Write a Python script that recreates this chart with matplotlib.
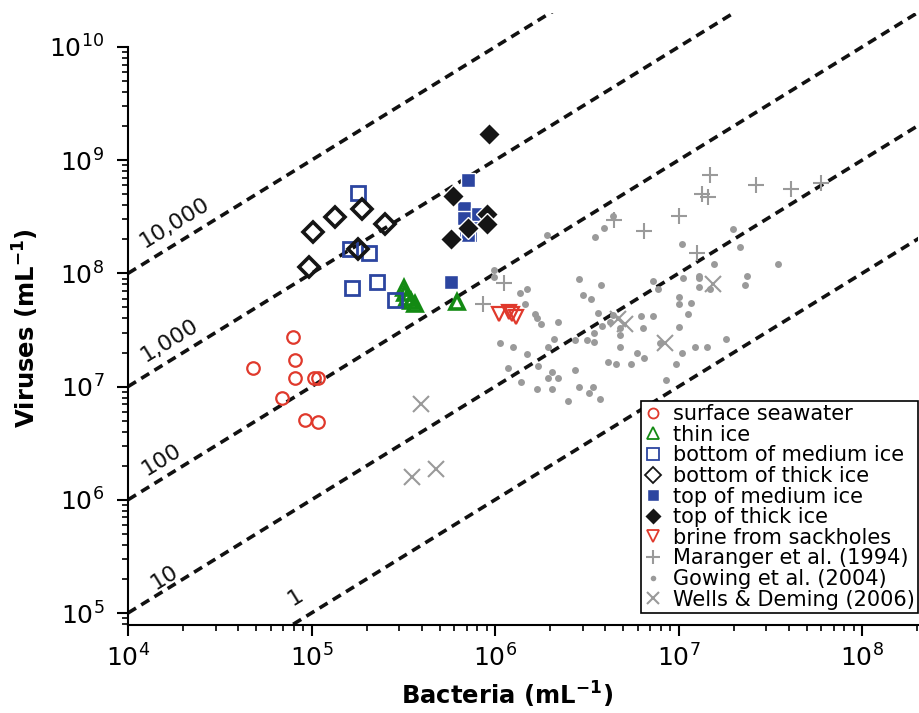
import numpy as np
import matplotlib
matplotlib.use("Agg")
import matplotlib.pyplot as plt

# ---- data (bacteria, viruses per mL)
surface_b = [7.9e4, 8.1e4, 4.8e4, 8.1e4, 1.03e5, 1.08e5, 6.9e4, 9.2e4, 1.08e5]
surface_v = [2.74e7, 1.72e7, 1.46e7, 1.19e7, 1.19e7, 1.19e7, 7.9e6, 5.07e6, 4.87e6]

thin_b = [3.19e5, 3.24e5, 3.31e5, 3.48e5, 3.66e5, 6.2e5]
thin_v = [7.43e7, 6.7e7, 6.07e7, 5.7e7, 5.37e7, 5.58e7]

botmed_b = [1.79e5, 1.62e5, 2.06e5, 1.66e5, 2.28e5, 2.85e5, 7.98e5, 7.13e5]
botmed_v = [5.13e8, 1.64e8, 1.51e8, 7.43e7, 8.4e7, 5.82e7, 3.28e8, 2.28e8]

botthick_b = [1.02e5, 1.34e5, 1.88e5, 2.52e5, 1.79e5, 9.7e4]
botthick_v = [2.32e8, 3.15e8, 3.71e8, 2.73e8, 1.64e8, 1.14e8]

topmed_b = [7.13e5, 6.78e5, 6.78e5, 8.07e5, 7.13e5, 5.75e5]
topmed_v = [6.68e8, 3.79e8, 3.08e8, 3.35e8, 2.18e8, 8.4e7]

topthick_b = [9.27e5, 5.9e5, 5.75e5, 9.04e5, 9.04e5, 7.13e5]
topthick_v = [1.70e9, 4.83e8, 2.01e8, 3.35e8, 2.73e8, 2.52e8]

brine_b = [1.05e6, 1.19e6, 1.24e6, 1.30e6]
brine_v = [4.38e7, 4.56e7, 4.38e7, 4.12e7]

maranger_b = [1.49e7, 1.34e7, 1.45e7, 2.64e7, 4.08e7, 5.96e7, 4.47e6, 1.01e7,
              6.52e6, 1.26e7, 1.12e6, 8.63e5]
maranger_v = [7.4e8, 5.0e8, 4.77e8, 6.04e8, 5.53e8, 6.25e8, 2.96e8, 3.21e8,
              2.37e8, 1.52e8, 8.19e7, 5.33e7]

gowing_b = [1.91e6, 3.51e6, 3.94e6, 4.41e6, 9.9e5, 9.9e5, 2.87e6, 3.77e6, 1.50e6, 1.36e6,
            3.02e6, 3.32e6, 1.46e6, 1.65e6, 1.69e6, 1.78e6, 2.20e6, 1.07e6, 1.26e6, 1.49e6,
            1.18e6, 1.39e6, 1.69e6, 1.72e6, 1.95e6, 2.05e6, 1.95e6, 2.20e6, 2.04e6, 2.10e6,
            2.49e6, 2.74e6, 2.87e6, 2.73e6, 3.16e6, 3.48e6, 3.48e6, 3.25e6, 3.41e6, 3.75e6,
            3.66e6, 3.85e6, 4.23e6, 7.22e6, 7.76e6, 1.06e7, 1.29e7, 1.29e7, 1.57e7, 1.29e7,
            1.49e7, 1.01e7, 1.17e7, 1.01e7, 1.04e7, 1.99e7, 2.15e7, 3.47e7, 2.35e7, 2.30e7,
            6.25e6, 7.22e6, 6.38e6, 4.80e6, 4.80e6, 4.38e6, 4.80e6, 4.11e6, 4.57e6, 5.51e6,
            5.92e6, 6.49e6, 7.93e6, 1.01e7, 1.12e7, 1.04e7, 9.69e6, 8.55e6, 1.23e7, 1.43e7,
            1.81e7]
gowing_v = [2.18e8, 2.10e8, 2.54e8, 3.21e8, 1.07e8, 9.2e7, 8.87e7, 7.82e7, 7.28e7, 6.71e7,
            6.45e7, 5.98e7, 5.35e7, 4.36e7, 4.04e7, 3.57e7, 3.72e7, 2.43e7, 2.24e7, 1.93e7,
            1.45e7, 1.105e7, 9.46e6, 1.52e7, 2.24e7, 1.35e7, 1.18e7, 1.18e7, 9.46e6, 2.62e7,
            7.51e6, 1.40e7, 9.86e6, 2.60e7, 2.60e7, 2.96e7, 2.49e7, 8.73e6, 9.82e6, 7.77e6,
            4.51e7, 3.43e7, 3.72e7, 8.51e7, 7.25e7, 9.16e7, 9.54e7, 9.11e7, 1.21e8, 7.54e7,
            7.23e7, 6.23e7, 5.51e7, 5.37e7, 1.81e8, 2.45e8, 1.72e8, 1.21e8, 9.54e7, 7.82e7,
            4.22e7, 4.21e7, 3.31e7, 3.31e7, 2.86e7, 4.25e7, 2.25e7, 1.64e7, 1.58e7, 1.58e7,
            1.99e7, 1.78e7, 2.45e7, 3.33e7, 4.35e7, 1.99e7, 1.58e7, 1.14e7, 2.25e7, 2.25e7,
            2.62e7]

wells_b = [3.95e5, 4.77e5, 3.53e5, 4.68e6, 5.1e6, 8.44e6, 1.54e7]
wells_v = [7.0e6, 1.87e6, 1.59e6, 3.96e7, 3.57e7, 2.43e7, 8.05e7]

ratios = [1, 10, 100, 1000, 10000]
ratio_labels = ["1", "10", "100", "1,000", "10,000"]
label_b = [8.2e4, 1.59e4, 1.53e4, 1.69e4, 1.8e4]
label_v = [1.38e5, 2.08e5, 2.25e6, 2.58e7, 2.79e8]

# ---- figure
fig = plt.figure(figsize=(9.19, 7.13), dpi=100)
ax = fig.add_axes([128/919, 1-625/713, 790/919, (625-12.9)/713])
ax.set_xscale("log")
ax.set_yscale("log")
xlo, xhi = 1e4, 10**8.305
ylo, yhi = 10**4.894, 2e10
ax.set_xlim(xlo, xhi)
ax.set_ylim(ylo, yhi)

# ratio lines
xx = np.logspace(4, 8.4, 50)
for r in ratios:
    ax.plot(xx, r*xx, color="#111111", lw=2.6, ls=(0, (2.6, 1.7)), zorder=1)
for lab, bx, vy in zip(ratio_labels, label_b, label_v):
    ax.text(bx, vy, lab, fontsize=16, rotation=31.7, ha="center", va="center",
            rotation_mode="anchor", color="#111111")

gray = "#9a9a9a"
red = "#e0392c"
green = "#138a13"
blue = "#2c45a0"
black = "#151515"

ax.plot(surface_b, surface_v, "o", ls="none", ms=9, mfc="none", mec=red, mew=1.6,
        label="surface seawater", zorder=4)
ax.plot(thin_b, thin_v, "^", ls="none", ms=10, mfc="none", mec=green, mew=2.6,
        label="thin ice", zorder=4)
ax.plot(botmed_b, botmed_v, "s", ls="none", ms=10, mfc="none", mec=blue, mew=2.0,
        label="bottom of medium ice", zorder=4)
ax.plot(botthick_b, botthick_v, "D", ls="none", ms=10, mfc="none", mec=black, mew=2.6,
        label="bottom of thick ice", zorder=4)
ax.plot(topmed_b, topmed_v, "s", ls="none", ms=10, mfc=blue, mec="white", mew=1.0,
        label="top of medium ice", zorder=5)
ax.plot(topthick_b, topthick_v, "D", ls="none", ms=11, mfc=black, mec="white", mew=1.0,
        label="top of thick ice", zorder=5)
ax.plot(brine_b, brine_v, "v", ls="none", ms=10, mfc="none", mec=red, mew=1.6,
        label="brine from sackholes", zorder=4)
ax.plot(maranger_b, maranger_v, "+", ls="none", ms=12, mec=gray, mew=1.5,
        label="Maranger et al. (1994)", zorder=3)
ax.plot(gowing_b, gowing_v, "o", ls="none", ms=5, mfc=gray, mec="none",
        label="Gowing et al. (2004)", zorder=3)
ax.plot(wells_b, wells_v, "x", ls="none", ms=11, mec=gray, mew=1.5,
        label="Wells & Deming (2006)", zorder=3)

# axes styling
for s in ["top", "right"]:
    ax.spines[s].set_visible(False)
ax.spines["left"].set_bounds(ylo, 1e10)
for s in ["left", "bottom"]:
    ax.spines[s].set_linewidth(1.5)
ax.set_yticks([10.0**e for e in range(5, 11)])
ax.set_yticks([k*10.0**e for e in range(4, 10) for k in range(2, 10)
               if ylo <= k*10.0**e <= 1e10], minor=True)
ax.set_xticks([10.0**e for e in range(4, 9)])
ax.set_xticks([k*10.0**e for e in range(4, 9) for k in range(2, 10)
               if k*10.0**e <= xhi], minor=True)
ax.tick_params(which="major", length=8, width=1.5, labelsize=18, direction="out", pad=6)
ax.tick_params(axis="y", which="major", pad=9)
ax.tick_params(which="minor", length=4, width=1.2, labelleft=False, labelbottom=False)

ax.set_xlabel(r"Bacteria (mL$^{\mathbf{-1}}$)", fontsize=17.5, fontweight="bold")
ax.set_ylabel(r"Viruses (mL$^{\mathbf{-1}}$)", fontsize=17.5, fontweight="bold")
ax.xaxis.set_label_coords((507-128)/790, -0.09)
ax.yaxis.set_label_coords(-0.11, (625-328)/612)

leg = ax.legend(loc="lower right", bbox_to_anchor=(1.0, 0.02), fontsize=15,
                frameon=True, fancybox=False, edgecolor="black", framealpha=1,
                borderaxespad=0, borderpad=0.15, labelspacing=0.03, handlelength=0.9,
                handletextpad=0.5, markerscale=0.8)
leg.get_frame().set_linewidth(1.2)
# thinner outlines on the legend's open markers
for h in leg.legend_handles:
    if h.get_markerfacecolor() == "none":
        h.set_markeredgewidth(1.3)

fig.savefig("out.png", dpi=100)
